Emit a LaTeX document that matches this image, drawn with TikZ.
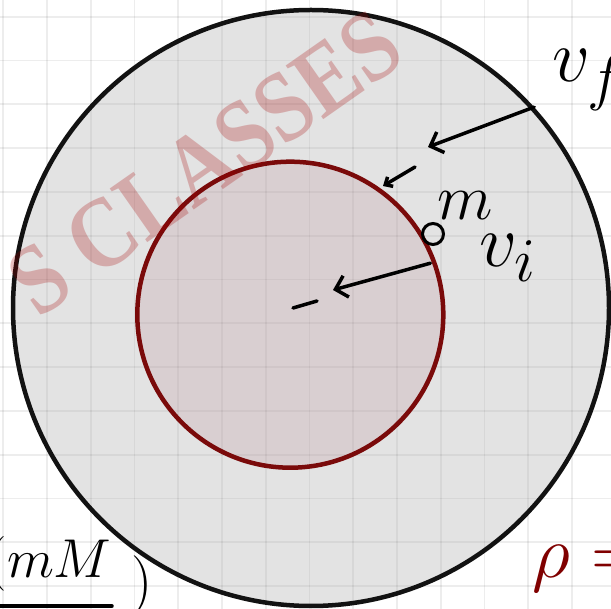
\documentclass[tikz,border=0pt]{standalone}
\usepackage{fontspec}
\usepackage{graphicx}
\newfontfamily\wmfont{Liberation Serif}
\usetikzlibrary{arrows.meta}

\definecolor{ringgray}{RGB}{158,158,158}
\definecolor{coretint}{RGB}{188,148,156}
\definecolor{coreline}{RGB}{122,10,10}
\definecolor{wmred}{RGB}{165,0,0}
\definecolor{inkred}{RGB}{128,0,0}

\tikzset{
  ink/.style={line width=3.5pt, line cap=round, black},
  bighead/.style={-{Straight Barb[length=11pt, width=22pt, line width=3.5pt]}},
  smallhead/.style={-{Straight Barb[length=6pt, width=11pt, line width=3.5pt]}},
  handtext/.style={inner sep=0pt, font=\Huge},
  gridline/.style={black, opacity=0.07, line width=1.8pt}
}

\begin{document}
\begin{tikzpicture}[x=1pt, y=-1pt]
  \useasboundingbox (0,0) rectangle (611,609);
  \clip (0,0) rectangle (611,609);
  \fill[white] (0,0) rectangle (611,609);

  % squared paper
  \foreach \k in {0,...,13} {
    \draw[gridline] (3.3+43.75*\k,0) -- (3.3+43.75*\k,609);
    \draw[gridline] (0,16.7+43.8*\k) -- (611,16.7+43.8*\k);
  }

  % the two spheres
  \node[circle, inner sep=0pt, minimum size=596pt, draw=black!93, line width=4.5pt,
        fill=ringgray, fill opacity=0.28] (outer) at (311,308) {};
  \node[circle, inner sep=0pt, minimum size=306pt, draw=coreline, line width=4.5pt,
        fill=coretint, fill opacity=0.25] (inner) at (290.3,314.7) {};

  % watermark
  \node[rotate=35, text=wmred, opacity=0.25, inner sep=0pt,
        font=\wmfont\bfseries\fontsize{100}{100}\selectfont] (wm) at (205,163)
        {\scalebox{0.86}[1]{S CLASSES}};

  % point mass
  \node[circle, draw, line width=3pt, minimum size=21pt, inner sep=0pt] (mass) at (433,234) {};
  \node[handtext, scale=2.6] (mlab) at (465,206) {$m$};

  % final speed on the outer shell
  \coordinate (vfhead) at (428,147);
  \coordinate (vfa) at (415,167);
  \coordinate (vfb) at (383,186);
  \draw[ink, bighead] (outer.42) -- (vfhead);
  \draw[ink, smallhead] (vfa) -- (vfb);
  \node[handtext, scale=3.0] (vflab) at (589,80) {$v_f$};

  % initial speed on the inner sphere
  \coordinate (vihead) at (333,290);
  \coordinate (via) at (317,301);
  \coordinate (vib) at (293,308);
  \draw[ink, bighead, shorten <=6pt] (inner.20) -- (vihead);
  \draw[ink] (via) -- (vib);
  \node[handtext, scale=3.0] (vilab) at (508,258) {$v_i$};

  % cut-off notes at the corners
  \node[handtext, scale=2.2, anchor=base east] (mM) at (112,578) {$(mM$};
  \draw[ink] (mM.south west) ++(0,14) -- ([yshift=-14pt]mM.south east);
  \node[handtext, scale=2.4] (rpar) at (142,586) {$)$};
  \node[handtext, scale=3.0, anchor=base west, text=inkred] (rho) at (532,578) {$\rho=$};
\end{tikzpicture}
\end{document}
